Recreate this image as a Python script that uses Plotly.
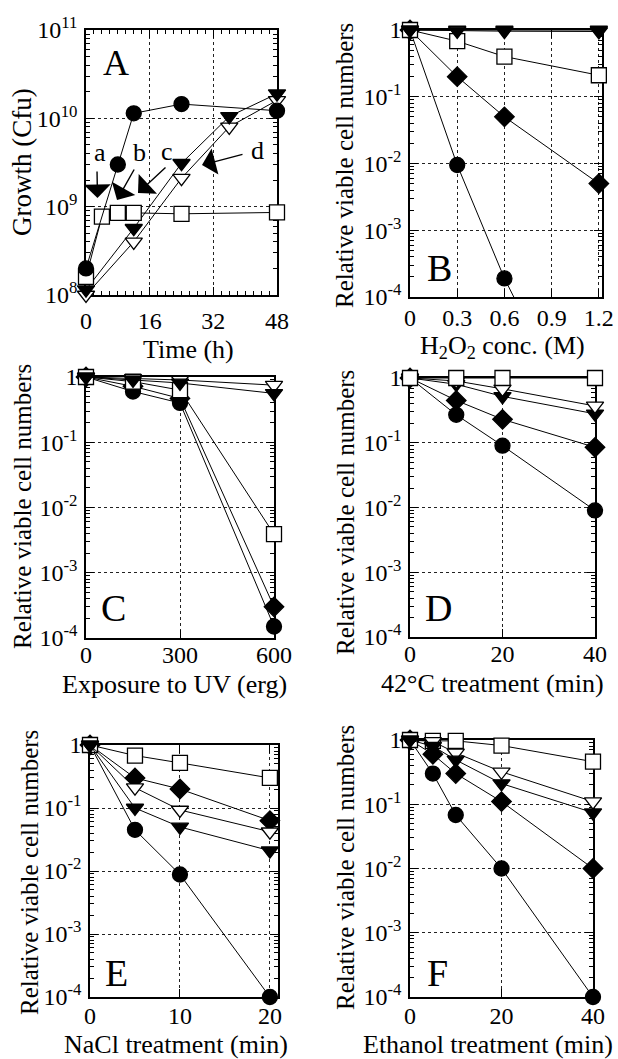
import plotly.graph_objects as go

W, H = 618, 1059

# ---------------- data ----------------
# Panel A: growth (Cfu) vs time (h)
A_t_circle = [0, 8, 12, 24, 48]
A_circle = [2.0e8, 3.0e9, 1.14e10, 1.45e10, 1.22e10]
A_t_square = [0, 4, 8, 12, 24, 48]
A_square = [1.6e8, 7.7e8, 8.5e8, 8.5e8, 8.3e8, 8.6e8]
A_t_tri = [0, 12, 24, 36, 48]
A_tri_filled = [1.15e8, 5.7e8, 3.1e9, 1.05e10, 1.9e10]
A_tri_open = [1.0e8, 4.0e8, 2.1e9, 8.0e9, 1.6e10]

# Panel B: H2O2 conc. (M)
B_x = [0, 0.3, 0.6, 1.2]
B_x_circle = [0, 0.3, 0.6, 0.9]
B_circle = [1, 0.0095, 1.9e-4, 7.5e-6]
B_diamond = [1, 0.2, 0.05, 0.005]
B_square = [1, 0.68, 0.4, 0.21]
B_tri_open = [1, 1, 1, 1]
B_tri_filled = [1, 0.97, 0.96, 0.95]

# Panel C: UV (erg)
C_x = [0, 150, 300, 600]
C_circle = [1, 0.6, 0.4, 1.5e-4]
C_diamond = [1, 0.72, 0.47, 3.0e-4]
C_square = [1, 0.85, 0.63, 3.9e-3]
C_tri_open = [1, 0.95, 0.9, 0.75]
C_tri_filled = [1, 0.9, 0.81, 0.56]

# Panel D: 42 C treatment (min)
D_x = [0, 10, 20, 40]
D_circle = [1, 0.27, 0.09, 0.009]
D_diamond = [1, 0.45, 0.23, 0.085]
D_square = [1, 1, 1, 1]
D_tri_open = [1, 0.9, 0.68, 0.37]
D_tri_filled = [1, 0.8, 0.52, 0.28]

# Panel E: NaCl treatment (min)
E_x = [0, 5, 10, 20]
E_circle = [1, 0.045, 0.0088, 1.0e-4]
E_diamond = [1, 0.3, 0.2, 0.063]
E_square = [1, 0.68, 0.52, 0.3]
E_tri_open = [1, 0.21, 0.093, 0.042]
E_tri_filled = [1, 0.1, 0.05, 0.021]

# Panel F: Ethanol treatment (min)
F_x = [0, 5, 10, 20, 40]
F_circle = [1, 0.3, 0.068, 0.01, 1.0e-4]
F_diamond = [1, 0.6, 0.3, 0.11, 0.01]
F_square = [1, 0.97, 0.97, 0.82, 0.46]
F_tri_open = [1, 0.95, 0.63, 0.32, 0.11]
F_tri_filled = [1, 0.8, 0.49, 0.21, 0.074]

A_yticks = [1e8, 1e9, 1e10, 1e11]
A_yticktext = ["10<sup>8</sup>", "10<sup>9</sup>", "10<sup>10</sup>", "10<sup>11</sup>"]
V_yticks = [1e-4, 1e-3, 1e-2, 1e-1, 1]
V_yticktext = ["10<sup>-4</sup>", "10<sup>-3</sup>", "10<sup>-2</sup>", "10<sup>-1</sup>", "1"]
A_xticks = [0, 16, 32, 48]
B_xticks = [0, 0.3, 0.6, 0.9, 1.2]
B_xticktext = ["0", "0.3", "0.6", "0.9", "1.2"]
C_xticks = [0, 300, 600]
D_xticks = [0, 20, 40]
E_xticks = [0, 10, 20]
F_xticks = [0, 20, 40]

# ---------------- styling ----------------
FONT = "Liberation Serif"
MS = 15

STY = {
    "circle": dict(symbol="circle", color="black"),
    "diamond": dict(symbol="diamond", color="black"),
    "square": dict(symbol="square", color="white"),
    "tri_open": dict(symbol="triangle-down", color="white"),
    "tri_filled": dict(symbol="triangle-down", color="black"),
}

fig = go.Figure()


def add(xs, ys, kind, ax, clip=False, size=MS):
    s = STY[kind]
    fig.add_trace(go.Scatter(
        x=xs, y=ys, mode="lines+markers",
        line=dict(color="black", width=1),
        marker=dict(symbol=s["symbol"], color=s["color"], size=size,
                    line=dict(color="black", width=1.3)),
        xaxis="x" + ("" if ax == 1 else str(ax)),
        yaxis="y" + ("" if ax == 1 else str(ax)),
        cliponaxis=clip, showlegend=False, hoverinfo="skip",
    ))


# Panel A
add(A_t_tri, A_tri_open, "tri_open", 1)
add(A_t_tri, A_tri_filled, "tri_filled", 1)
add(A_t_square, A_square, "square", 1)
add(A_t_circle, A_circle, "circle", 1)
# Panel B
add(B_x_circle, B_circle, "circle", 2, clip=True)
add(B_x, B_diamond, "diamond", 2)
add(B_x, B_square, "square", 2)
add(B_x, B_tri_open, "tri_open", 2)
add(B_x, B_tri_filled, "tri_filled", 2)
# Panel C
add(C_x, C_circle, "circle", 3)
add(C_x, C_diamond, "diamond", 3)
add(C_x, C_square, "square", 3)
add(C_x, C_tri_open, "tri_open", 3)
add(C_x, C_tri_filled, "tri_filled", 3)
# Panel D
add(D_x, D_circle, "circle", 4)
add(D_x, D_diamond, "diamond", 4)
add(D_x, D_tri_filled, "tri_filled", 4)
add(D_x, D_tri_open, "tri_open", 4)
add(D_x, D_square, "square", 4)
# Panel E
add(E_x, E_circle, "circle", 5)
add(E_x, E_diamond, "diamond", 5)
add(E_x, E_square, "square", 5)
add(E_x, E_tri_open, "tri_open", 5)
add(E_x, E_tri_filled, "tri_filled", 5)
# Panel F
add(F_x, F_circle, "circle", 6)
add(F_x, F_diamond, "diamond", 6)
add(F_x, F_square, "square", 6)
add(F_x, F_tri_open, "tri_open", 6)
add(F_x, F_tri_filled, "tri_filled", 6)


def px_dom(a, b):
    return [a / W, b / W]


def py_dom(top, bottom):
    return [1 - bottom / H, 1 - top / H]


def minor_log(lo, hi):
    return [m * 10 ** e for e in range(lo, hi) for m in range(2, 10)]


common = dict(
    showline=True, linecolor="black", linewidth=1.5, mirror="allticks",
    ticks="inside", ticklen=8, tickwidth=1.3, tickcolor="black",
    showgrid=True, gridcolor="#222", gridwidth=1, griddash="dot",
    zeroline=False, layer="below traces", automargin=False,
    tickfont=dict(family=FONT, size=24, color="black"),
    fixedrange=True,
)

panels = [
    # id, x px, y px, x range, xticks, xticktext, y range, yticks, yticktext, minor decades, x label standoff
    (1, (86, 277), (30, 295), [0, 48], A_xticks, None, [8, 11], A_yticks, A_yticktext, (8, 11), 3),
    (2, (410, 602), (30, 297), [0, 1.22], B_xticks, B_xticktext, [-4, 0], V_yticks, V_yticktext, (-4, 0), -2),
    (3, (86, 274), (377, 638), [0, 600], C_xticks, None, [-4, 0], V_yticks, V_yticktext, (-4, 0), -6),
    (4, (410, 595), (378, 637), [0, 40], D_xticks, None, [-4, 0], V_yticks, V_yticktext, (-4, 0), -6),
    (5, (90, 278), (745, 997), [0, 20.9], E_xticks, None, [-4, 0], V_yticks, V_yticktext, (-4, 0), -4),
    (6, (410, 593), (740, 997), [0, 40], F_xticks, None, [-4, 0], V_yticks, V_yticktext, (-4, 0), -4),
]

lay = {}
for pid, xd, yd, xr, xt, xtt, yr, yt, ytt, mr, so in panels:
    sfx = "" if pid == 1 else str(pid)
    xa = dict(common)
    xa.update(domain=px_dom(*xd), range=xr, tickmode="array", tickvals=xt,
              anchor="y" + sfx, ticklabelstandoff=so)
    if xtt:
        xa["ticktext"] = xtt
    if pid == 1:
        xa["minor"] = dict(ticks="inside", dtick=2, ticklen=4, tickwidth=1, tickcolor="black", showgrid=False)
    ya = dict(common)
    ya.update(domain=py_dom(*yd), type="log", range=yr, tickmode="array",
              tickvals=yt, ticktext=ytt, anchor="x" + sfx, ticklabelstandoff=2,
              minor=dict(ticks="inside", tickmode="array", tickvals=minor_log(*mr),
                         ticklen=4, tickwidth=1, tickcolor="black", showgrid=False))
    lay["xaxis" + sfx] = xa
    lay["yaxis" + sfx] = ya


def P(x, y):
    return x / W, 1 - y / H


ann = []


def text(s, x, y, size, angle=0):
    px, py = P(x, y)
    ann.append(dict(text=s, x=px, y=py, xref="paper", yref="paper", showarrow=False,
                    xanchor="center", yanchor="middle", textangle=angle,
                    font=dict(family=FONT, size=size, color="black")))


# axis titles
text("Growth (Cfu)", 22, 162, 27, -90)
text("Time (h)", 188, 349, 26)
text("Relative viable cell numbers", 345, 166, 25, -90)
text("H<sub>2</sub>O<sub>2</sub> conc. (M)", 502, 347, 26)
text("Relative viable cell numbers", 22, 507, 25, -90)
text("Exposure to UV (erg)", 174, 685, 26)
text("Relative viable cell numbers", 345, 513, 25, -90)
text("42°C treatment (min)", 492, 683, 26)
text("Relative viable cell numbers", 29, 873, 25, -90)
text("NaCl treatment (min)", 176, 1044, 26)
text("Relative viable cell numbers", 345, 868, 25, -90)
text("Ethanol treatment (min)", 488, 1044, 26)

# panel letters
text("A", 116, 63, 36)
text("B", 439, 268, 38)
text("C", 113, 608, 38)
text("D", 438, 608, 38)
text("E", 116, 973, 38)
text("F", 437, 973, 38)

# curve labels in A
text("a", 100, 152, 26)
text("b", 139, 152, 26)
text("c", 167, 151, 26)
text("d", 257, 150, 26)


def arrow(tip, tail):
    tx, ty = P(*tip)
    ann.append(dict(text="", x=tx, y=ty, xref="paper", yref="paper",
                    ax=tail[0] - tip[0], ay=tail[1] - tip[1], axref="pixel", ayref="pixel",
                    showarrow=True, arrowhead=1, arrowsize=3.2, arrowwidth=1.4,
                    arrowcolor="black", standoff=0))


arrow((97.5, 198), (97, 170))
arrow((117, 200), (135, 168))
arrow((138, 193), (167, 166))
arrow((202, 165), (244, 154))

fig.update_layout(
    width=W, height=H, margin=dict(l=0, r=0, t=0, b=0, pad=0, autoexpand=False),
    paper_bgcolor="white", plot_bgcolor="white",
    annotations=ann, showlegend=False, **lay,
)

fig.write_html(
    "out.html",
    config={"responsive": False, "displayModeBar": False},
    post_script="document.body.style.margin='0';document.body.style.padding='0';"
                "document.body.style.overflow='hidden';"
                "document.documentElement.style.overflow='hidden';",
)
